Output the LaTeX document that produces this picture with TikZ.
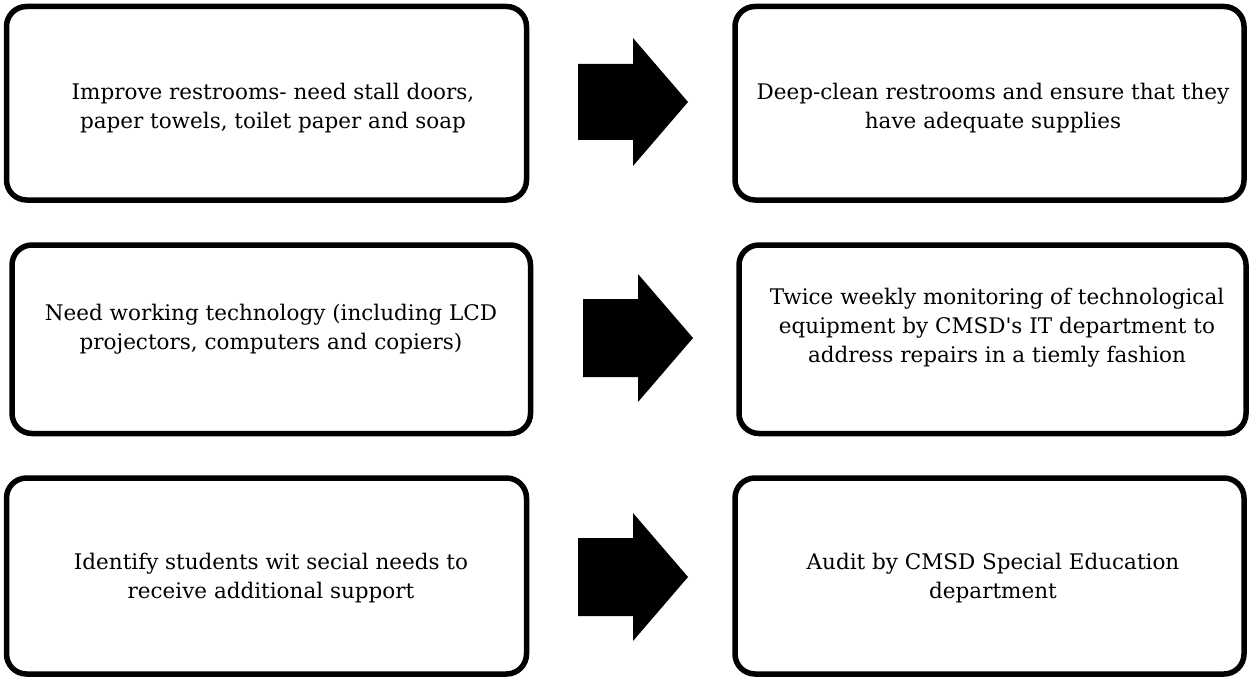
\documentclass[tikz,border=0pt]{standalone}
\usepackage{fontspec}
\setmainfont{DejaVu Serif}[Ligatures=TeXOff]
\begin{document}
\begin{tikzpicture}[x=1pt,y=-1pt,
  card/.style={draw=black,line width=5.5pt,rounded corners=20pt},
  cardtext/.style={align=center,font=\fontsize{21.5}{29}\selectfont,inner sep=0pt},
  blockarrow/.style={fill=black,draw=none}]
\useasboundingbox (0,0) rectangle (1249,679);
% left boxes
\draw[card] (6.5,6.5) rectangle (526.5,200) coordinate (L1);
\draw[card] (12,245) rectangle (530.5,433.5) coordinate (L2);
\draw[card] (6.5,478) rectangle (526.5,674) coordinate (L3);
% right boxes
\draw[card] (735,6.5) rectangle (1244,200) coordinate (R1);
\draw[card] (739,245) rectangle (1246,433.5) coordinate (R2);
\draw[card] (735,478) rectangle (1244,674) coordinate (R3);
% texts
\node[cardtext] (tL1) at (273,108) {Improve restrooms- need stall doors,\\paper towels, toilet paper and soap};
\node[cardtext] (tR1) at (993,108) {Deep-clean restrooms and ensure that they\\have adequate supplies};
\node[cardtext] (tL2) at (271,329) {Need working technology (including LCD\\projectors, computers and copiers)};
\node[cardtext] (tR2) at (997,328) {Twice weekly monitoring of technological\\equipment by CMSD's IT department to\\address repairs in a tiemly fashion};
\node[cardtext] (tL3) at (271,578) {Identify students wit secial needs to\\receive additional support};
\node[cardtext] (tR3) at (993,578) {Audit by CMSD Special Education\\department};
% block arrows
\fill[blockarrow] (578,64) -- (633,64) -- (633,38) -- (688,102) -- (633,166) -- (633,140) -- (578,140) -- cycle;
\fill[blockarrow] (583,299) -- (638,299) -- (638,274) -- (693,338) -- (638,402) -- (638,377) -- (583,377) -- cycle;
\fill[blockarrow] (578,538) -- (633,538) -- (633,513) -- (688,577) -- (633,641) -- (633,616) -- (578,616) -- cycle;
\end{tikzpicture}
\end{document}
